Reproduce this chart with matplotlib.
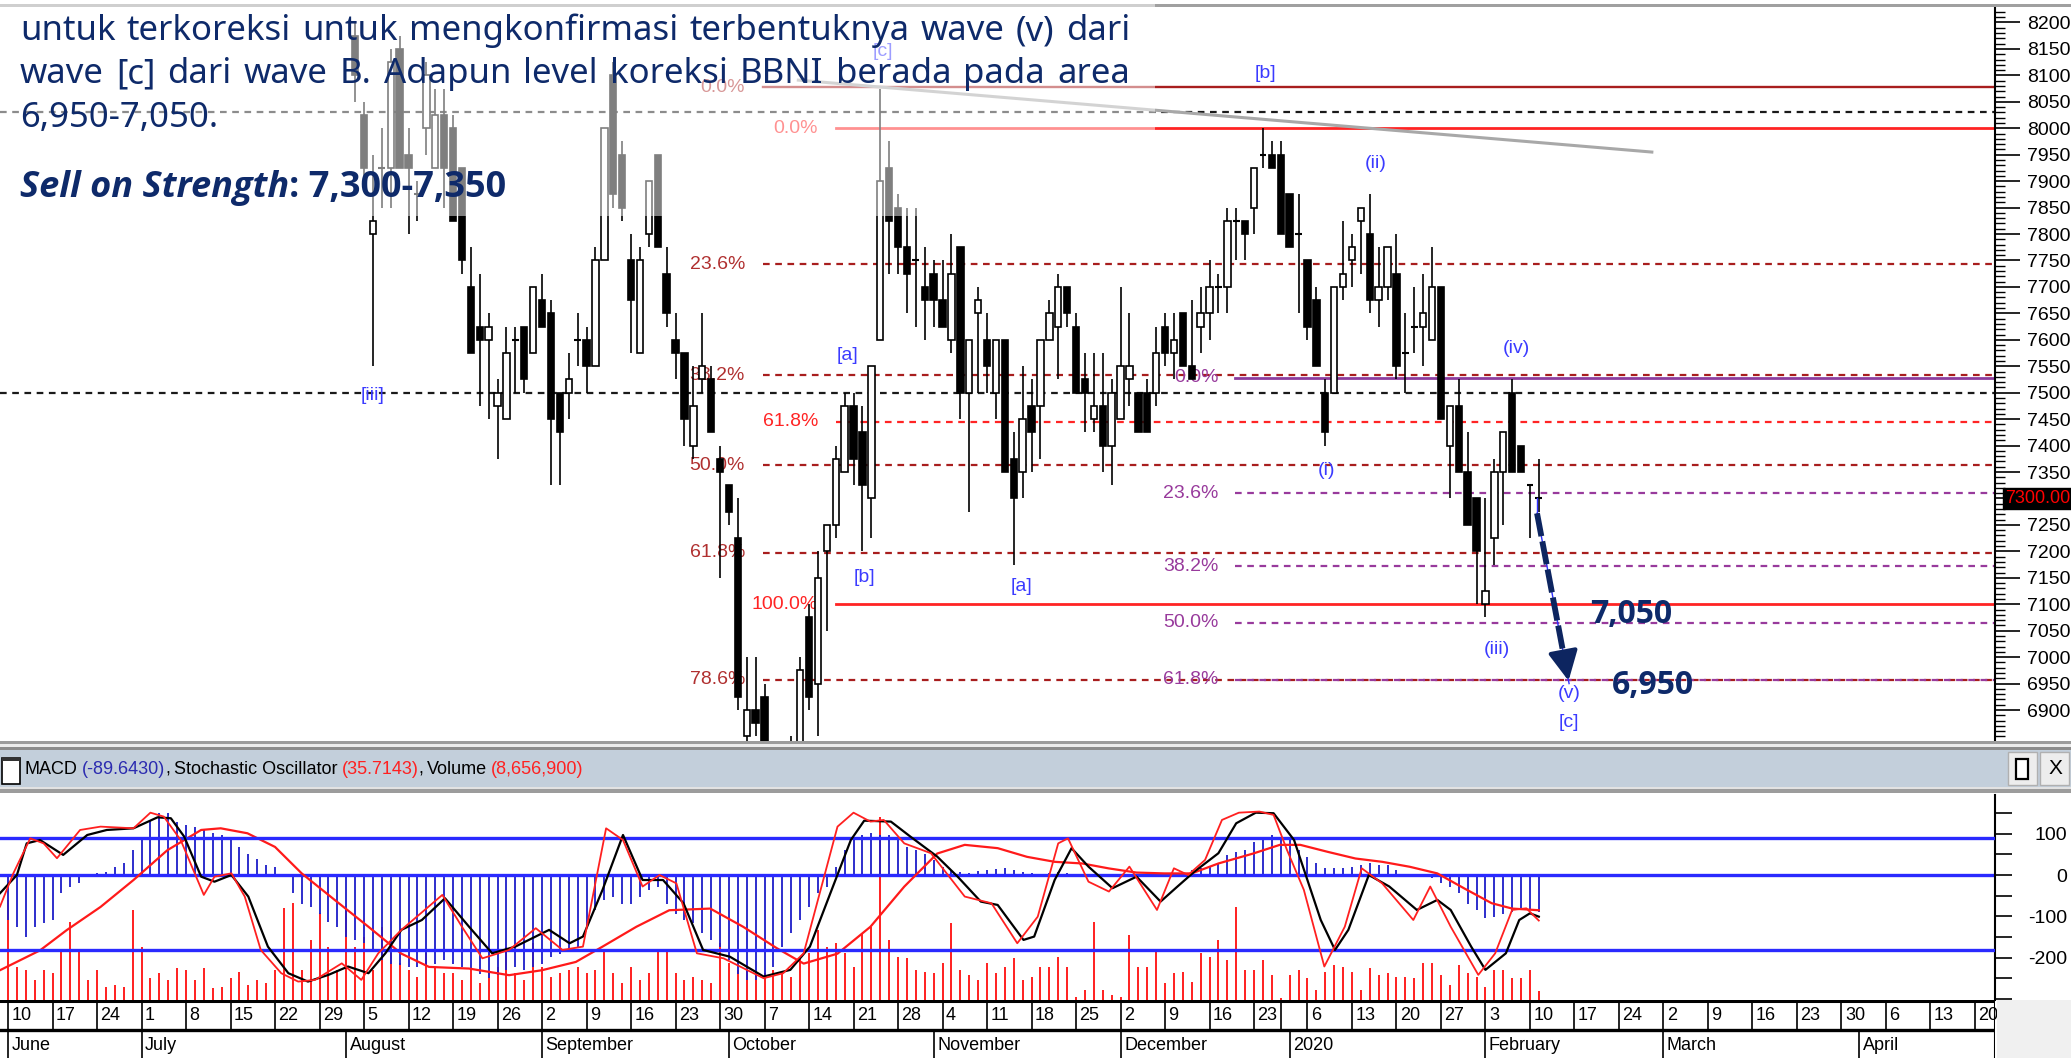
import os
import numpy as np
import matplotlib
matplotlib.use("Agg")
import matplotlib.pyplot as plt
from matplotlib import font_manager as fm
from matplotlib.patches import Rectangle
from matplotlib.ticker import FuncFormatter

plt.rcParams['font.family'] = ['Liberation Sans', 'DejaVu Sans']

# ---- candles (x = trading-day index from 10 Jun 2019) ----
candle_idx = list(range(39, 173))
opens = [8175, 8025, 7800, 7925, 7925, 8150, 7950, 7875, 8000, 7925, 8025, 8000, 7925, 7700, 7625, 7600,
         7475, 7450, 7600, 7625, 7575, 7675, 7650, 7500, 7500, 7600, 7600, 7550, 7750, 8100, 7950, 7750,
         7575, 7800, 7950, 7725, 7600, 7575, 7400, 7525, 7525, 7375, 7325, 7225, 6850, 6900, 6925, 6775,
         6725, 6750, 6800, 7075, 6950, 7200, 7250, 7350, 7475, 7425, 7300, 7600, 7925, 7850, 7775, 7750,
         7700, 7725, 7675, 7600, 7775, 7500, 7650, 7600, 7500, 7600, 7375, 7350, 7475, 7475, 7600, 7625,
         7700, 7625, 7525, 7450, 7475, 7400, 7450, 7525, 7500, 7500, 7500, 7625, 7575, 7650, 7550, 7625,
         7650, 7700, 7700, 7825, 7825, 7850, 7950, 7950, 7950, 7875, 7800, 7750, 7675, 7500, 7500, 7700,
         7750, 7825, 7800, 7675, 7700, 7725, 7575, 7625, 7625, 7600, 7700, 7400, 7475, 7350, 7300, 7100,
         7225, 7350, 7500, 7400, 7325, 7300]
highs = [8200, 8050, 7950, 8000, 8150, 8175, 8000, 7900, 8125, 8075, 8075, 8025, 7925, 7775, 7725, 7650,
         7525, 7625, 7625, 7625, 7700, 7725, 7675, 7500, 7575, 7650, 7625, 7775, 8000, 8125, 7975, 7800,
         7775, 7900, 7950, 7775, 7650, 7575, 7550, 7650, 7550, 7400, 7325, 7300, 7000, 7000, 6950, 6825,
         6800, 6850, 7000, 7100, 7200, 7250, 7400, 7500, 7500, 7475, 7550, 8075, 7975, 7875, 7850, 7850,
         7775, 7750, 7750, 7800, 7775, 7600, 7700, 7650, 7600, 7600, 7425, 7550, 7525, 7600, 7675, 7725,
         7700, 7650, 7575, 7575, 7575, 7525, 7700, 7650, 7500, 7525, 7625, 7650, 7650, 7650, 7675, 7700,
         7750, 7725, 7850, 7850, 7825, 7925, 8000, 7975, 7975, 7875, 7875, 7750, 7700, 7525, 7700, 7825,
         7800, 7850, 7875, 7775, 7775, 7800, 7650, 7700, 7725, 7775, 7700, 7475, 7525, 7425, 7300, 7300,
         7375, 7425, 7525, 7400, 7325, 7375]
lows = [8050, 7900, 7550, 7850, 7850, 7925, 7800, 7825, 7950, 7925, 7850, 7825, 7725, 7575, 7475, 7450,
        7375, 7450, 7500, 7500, 7575, 7625, 7325, 7325, 7450, 7550, 7500, 7550, 7750, 7850, 7825, 7575,
        7575, 7775, 7775, 7625, 7525, 7400, 7375, 7500, 7425, 7150, 7250, 6900, 6800, 6850, 6750, 6700,
        6675, 6700, 6775, 6900, 6850, 7050, 7225, 7350, 7325, 7200, 7225, 7600, 7725, 7725, 7650, 7625,
        7600, 7625, 7625, 7575, 7450, 7275, 7500, 7500, 7450, 7350, 7175, 7300, 7350, 7375, 7600, 7525,
        7625, 7500, 7425, 7425, 7350, 7325, 7450, 7475, 7425, 7425, 7475, 7550, 7525, 7550, 7525, 7575,
        7600, 7650, 7650, 7750, 7750, 7800, 7925, 7925, 7800, 7775, 7650, 7600, 7550, 7400, 7500, 7675,
        7700, 7725, 7650, 7625, 7675, 7525, 7500, 7575, 7550, 7600, 7450, 7300, 7350, 7250, 7100, 7075,
        7175, 7250, 7350, 7350, 7225, 7275]
closes = [8100, 7925, 7825, 7925, 8125, 7925, 7925, 7875, 8100, 8025, 7925, 7825, 7750, 7575, 7600, 7625,
          7500, 7575, 7600, 7525, 7700, 7625, 7450, 7425, 7525, 7600, 7550, 7750, 8000, 7875, 7850, 7675,
          7750, 7900, 7775, 7650, 7575, 7450, 7475, 7550, 7425, 7350, 7275, 6925, 6900, 6875, 6775, 6725,
          6775, 6800, 6975, 6925, 7150, 7250, 7375, 7475, 7375, 7325, 7550, 7900, 7825, 7775, 7725, 7750,
          7675, 7675, 7625, 7725, 7500, 7600, 7675, 7550, 7600, 7350, 7300, 7450, 7425, 7600, 7650, 7700,
          7650, 7500, 7500, 7475, 7400, 7500, 7550, 7550, 7425, 7425, 7575, 7575, 7600, 7550, 7525, 7650,
          7700, 7700, 7825, 7825, 7800, 7925, 7950, 7925, 7800, 7775, 7800, 7625, 7550, 7425, 7700, 7725,
          7775, 7850, 7675, 7700, 7775, 7550, 7575, 7625, 7650, 7700, 7450, 7475, 7350, 7250, 7200, 7125,
          7350, 7425, 7350, 7350, 7325, 7300]

# ---- fibonacci / reference levels ----
fib_dark_levels = [8078, 7743, 7533, 7363, 7197, 6957]
fib_dark_labels = ["0.0%", "23.6%", "38.2%", "50.0%", "61.8%", "78.6%"]
fib_red_levels = [8000, 7445, 7100]
fib_red_labels = ["0.0%", "61.8%", "100.0%"]
fib_purple_levels = [7528, 7310, 7172, 7065, 6957]
fib_purple_labels = ["0.0%", "23.6%", "38.2%", "50.0%", "61.8%"]
black_dashed_levels = [8030, 7500]
trend_x = [88.8, 184.7]
trend_y = [8091, 7955]

# ---- wave labels ----
wave_text = ["[iii]", "[a]", "[b]", "[c]", "[a]", "[b]", "(i)", "(ii)", "(iii)", "(iv)", "(v)", "[c]"]
wave_x = [41, 94.3, 96.2, 98.3, 113.9, 141.3, 148.2, 153.7, 167.3, 169.5, 175.4, 175.4]
wave_y = [7495, 7570, 7150, 8145, 7133, 8103, 7353, 7934, 7014, 7584, 6932, 6876]
arrow_x = [171.8, 175.4]
arrow_y = [7272, 6950]

# ---- lower panel ----
macd_hist = [-109, -125, -149, -125, -117, -109, -44, -28, -20, -4, 4, 8, 20, 28, 60, 93, 133, 151, 151, 129,
             121, 117, 110, 101, 97, 85, 69, 52, 40, 24, 20, -5, -44, -69, -77, -93, -113, -125, -149, -157,
             -165, -181, -206, -214, -218, -222, -222, -218, -214, -206, -214, -222, -230, -238, -250, -242,
             -230, -222, -230, -222, -214, -198, -190, -181, -173, -125, -85, -60, -52, -69, -69, -52, -36,
             -28, -69, -93, -109, -117, -141, -157, -173, -206, -238, -254, -254, -246, -222, -173, -141, -109,
             -77, -44, -28, 20, 60, 85, 97, 101, 97, 97, 85, 69, 60, 52, 36, 20, 12, 8, 4, 10, 12, 14, 16, 12,
             8, 4, 0, 4, 8, 4, 2, 2, 3, 2, 2, 3, 2, 2, 3, 5, 5, 5, 8, 12, 16, 20, 28, 48, 56, 60, 81, 93, 97,
             93, 85, 60, 44, 28, 16, 16, 16, 20, 24, 28, 24, 24, 12, 0, 0, -4, -8, -20, -28, -44, -69, -85,
             -105, -101, -93, -89, -85, -85, -89.6]
signal_x = [-0.9, 3.6, 6.6, 10.4, 14.1, 17.9, 21.7, 23.9, 26.9, 30.0, 33.0, 36.7, 40.5, 44.2, 47.3, 51.8,
            56.3, 60.0, 63.8, 66.8, 70.6, 74.3, 78.9, 82.6, 86.4, 89.4, 93.2, 96.9, 100.7, 104.4, 107.5,
            111.2, 114.5, 117.6, 120.7, 123.7, 126.8, 129.9, 133.0, 136.0, 139.9, 142.9, 145.2, 148.3,
            151.4, 154.4, 157.5, 160.6, 163.6, 166.7, 169.0, 172.0]
signal_y = [-230, -182, -133, -77, -12, 60, 109, 113, 101, 68, 4, -60, -125, -190, -222, -226, -242, -230,
            -210, -173, -125, -85, -81, -125, -177, -214, -190, -125, -28, 52, 73, 65, 44, 32, 28, 16, 6, 4,
            4, 28, 52, 73, 73, 56, 40, 32, 20, 4, -32, -68, -81, -85]
stoch_k_x = [-0.9, 0.6, 2.5, 4.0, 5.5, 8.1, 10.4, 14.1, 16.0, 17.5, 19.4, 22.0, 23.2, 25.1, 26.6, 28.4,
             30.7, 32.6, 34.5, 37.5, 39.7, 41.6, 44.2, 48.8, 51.0, 53.3, 56.3, 59.3, 62.3, 64.6, 67.2, 69.1,
             71.3, 73.2, 75.1, 77.4, 80.4, 84.9, 87.1, 89.4, 93.2, 95.0, 96.9, 98.4, 100.7, 103.7, 107.5,
             110.5, 113.4, 115.7, 118.0, 119.1, 121.4, 123.7, 126.0, 129.1, 131.0, 132.6, 134.5, 136.4,
             138.3, 140.6, 142.2, 143.7, 145.6, 147.9, 150.2, 152.1, 154.4, 157.9, 159.8, 162.1, 165.2,
             167.1, 169.0, 170.6, 172.0]
stoch_k_y = [43.2, 61.1, 79.9, 77.2, 69.2, 84.4, 86.2, 85.3, 93.7, 91.6, 79.0, 49.5, 59.3, 61.1, 48.6, 19.9,
             7.4, 2.9, 3.8, 12.7, 3.8, 18.1, 30.7, 49.5, 32.4, 15.4, 19.9, 31.6, 19.9, 21.7, 85.3, 79.0, 54.0,
             60.2, 55.7, 18.1, 15.4, 4.7, 7.4, 18.1, 86.2, 93.7, 88.9, 89.8, 77.2, 71.9, 48.6, 45.0, 23.5,
             37.8, 77.2, 79.9, 56.6, 51.3, 64.7, 41.4, 63.8, 60.2, 68.3, 89.8, 93.7, 94.3, 92.5, 73.7, 52.2,
             11.0, 32.4, 63.8, 55.7, 36.0, 54.0, 32.4, 6.5, 18.1, 41.4, 42.3, 35.7]
stoch_d_x = [-0.9, 1.0, 2.1, 3.6, 6.2, 8.9, 11.1, 14.1, 16.8, 18.3, 19.8, 21.7, 23.2, 25.1, 27.0, 29.2,
             31.5, 33.7, 36.0, 38.2, 40.5, 42.4, 44.2, 46.5, 49.1, 51.8, 54.4, 57.0, 60.8, 63.1, 64.6, 66.8,
             69.1, 71.3, 73.6, 75.9, 78.1, 81.1, 84.9, 87.9, 90.1, 92.4, 94.7, 96.2, 99.2, 101.4, 104.4,
             106.7, 109.3, 111.2, 114.1, 115.3, 117.6, 119.5, 121.4, 124.1, 126.8, 129.5, 131.4, 133.3,
             136.0, 138.0, 140.2, 142.2, 144.5, 146.0, 147.5, 149.1, 150.6, 152.9, 155.2, 158.3, 160.6,
             162.1, 164.4, 166.0, 168.3, 169.8, 171.0, 172.0]
stoch_d_y = [50.4, 60.2, 77.2, 79.0, 71.0, 81.7, 84.4, 85.3, 91.2, 90.7, 80.8, 59.3, 56.6, 60.2, 48.6, 21.7,
             7.4, 2.9, 6.5, 11.0, 7.4, 18.1, 30.7, 36.0, 47.7, 32.4, 18.1, 21.7, 30.7, 23.5, 27.1, 52.2, 81.7,
             57.5, 57.5, 45.0, 19.9, 16.3, 5.6, 9.2, 21.7, 50.4, 79.0, 89.4, 88.9, 80.8, 70.1, 59.3, 45.9,
             44.1, 25.3, 27.1, 57.5, 74.6, 64.7, 53.1, 59.3, 45.9, 54.0, 62.0, 71.9, 88.0, 93.7, 93.4, 79.0,
             57.5, 36.0, 19.9, 30.7, 60.2, 54.0, 41.4, 46.8, 41.4, 21.7, 9.2, 18.1, 36.0, 39.6, 37.8]
volume_m = [100, 33, 30, 20, 30, 27, 50, 78, 50, 20, 30, 13, 15, 13, 90, 53, 22, 27, 20, 32, 30, 20, 32, 12,
            13, 22, 28, 15, 20, 17, 30, 92, 97, 30, 60, 87, 53, 30, 90, 53, 63, 30, 73, 47, 37, 30, 23, 47,
            33, 27, 27, 20, 30, 17, 27, 33, 53, 27, 20, 57, 33, 23, 27, 30, 33, 27, 30, 50, 27, 17, 33, 20,
            27, 50, 50, 27, 20, 23, 20, 17, 57, 37, 30, 30, 27, 27, 30, 27, 23, 43, 47, 70, 53, 57, 47, 33,
            67, 73, 183, 60, 43, 42, 30, 28, 27, 37, 77, 30, 25, 20, 37, 27, 33, 42, 20, 23, 33, 33, 43, 33,
            3, 10, 78, 10, 5, 3, 65, 33, 33, 50, 17, 27, 28, 18, 47, 43, 60, 40, 93, 30, 30, 40, 25, 2, 25,
            30, 22, 10, 28, 35, 33, 28, 10, 32, 25, 27, 23, 23, 22, 37, 37, 25, 15, 35, 27, 23, 13, 30, 30,
            22, 22, 30, 8.66]

# ---- date axis ----
week_idx = [0, 5, 10, 15, 20, 25, 30, 35, 40, 45, 50, 55, 60, 65, 70, 75, 80, 85, 90, 95, 100, 105, 110,
            115, 120, 125, 130, 135, 140, 143, 146, 151, 156, 161, 166, 171, 176, 181, 186, 191, 196, 201,
            206, 211, 216, 221]
week_labels = ["10", "17", "24", "1", "8", "15", "22", "29", "5", "12", "19", "26", "2", "9", "16", "23",
               "30", "7", "14", "21", "28", "4", "11", "18", "25", "2", "9", "16", "23", "", "6", "13", "20",
               "27", "3", "10", "17", "24", "2", "9", "16", "23", "30", "6", "13", "20"]
month_idx = [0, 15, 38, 60, 81, 104, 125, 144, 166, 186, 208]
month_labels = ["June", "July", "August", "September", "October", "November", "December", "2020",
                "February", "March", "April"]

line1 = "untuk terkoreksi untuk mengkonfirmasi terbentuknya wave (v) dari"
line2 = "wave [c] dari wave B. Adapun level koreksi BBNI berada pada area"
line3 = "6,950-7,050."


# ---- font helpers ----
def font_ok(fam, weight="normal", style="normal", need=()):
    try:
        p = fm.findfont(fm.FontProperties(family=fam, weight=weight, style=style), fallback_to_default=False)
    except Exception:
        return False
    name = os.path.basename(p).lower()
    return all(any(k in name for k in n) for n in need)


BODY = next((f for f in ["Noto Sans", "Open Sans", "Lato"] if font_ok(f)), "DejaVu Sans")
BOLD = next((f for f in ["Noto Sans", "Open Sans", "Lato", "Roboto", "Liberation Sans"]
             if font_ok(f, "bold", need=(("bold",),))), "DejaVu Sans")
BOLDIT = next((f for f in ["Noto Sans", "Open Sans", "Lato", "Roboto", "Liberation Sans"]
               if font_ok(f, "bold", "italic", need=(("bold",), ("italic", "oblique")))), "DejaVu Sans")
HAS_NARROW = font_ok("Liberation Sans Narrow", need=(("narrow",),))
HEAD = dict(family="Liberation Sans Narrow", fontsize=15) if HAS_NARROW else dict(family="Liberation Sans", fontsize=13)
DATES = dict(family="Liberation Sans Narrow", fontsize=15) if HAS_NARROW else dict(family="Liberation Sans", fontsize=13)

W, H = 2071, 1058
fig = plt.figure(figsize=(W / 100, H / 100), dpi=100)
fig.patch.set_facecolor("white")


def fx(px):
    return px / W


def fy(py):
    return 1 - py / H


X0 = -0.9
X1 = X0 + 1995 / 8.9
NAVY = "#0e2a6a"
WAVE = "#3b3bff"
DARK = "#a81e1e"
RED = "#ff2424"
PURP = "#983a9c"

# ================= main price panel =================
ax = fig.add_axes([0, fy(741), fx(1995), (741 - 8) / H])
ax.set_xlim(X0, X1)
ax.set_ylim(6841.4, 8227.4)
for s in ["left", "top", "bottom"]:
    ax.spines[s].set_visible(False)
ax.spines["right"].set_linewidth(1.5)
ax.set_xticks([])
ax.yaxis.tick_right()
ax.set_yticks(np.arange(6900, 8201, 50))
ax.set_yticks(np.arange(6850, 8221, 10), minor=True)
ax.yaxis.set_major_formatter(FuncFormatter(lambda v, p: "" if abs(v - closes[-1]) < 1 else f"{v:.0f}"))
ax.tick_params(axis="y", which="major", length=18, width=1.2, pad=5, labelsize=14)
ax.tick_params(axis="y", which="minor", length=7, width=1)

dash = (0, (3, 2.5))
for lv in black_dashed_levels:
    ax.plot([X0, X1], [lv, lv], color="#1a1a1a", lw=1.6, ls=dash, zorder=1)
for i, (lv, lab) in enumerate(zip(fib_dark_levels, fib_dark_labels)):
    ax.plot([84.8, X1], [lv, lv], color=DARK, lw=1.7 if i == 0 else 1.6, ls="-" if i == 0 else dash, zorder=1)
    ax.text(82.8, lv, lab, color="#b03030", fontsize=14, ha="right", va="center", zorder=2)
for i, (lv, lab) in enumerate(zip(fib_red_levels, fib_red_labels)):
    ax.plot([93.0, X1], [lv, lv], color=RED, lw=2.0 if lab != "61.8%" else 1.6,
            ls=dash if lab == "61.8%" else "-", zorder=1)
    ax.text(91.0, lv, lab, color=RED, fontsize=14, ha="right", va="center", zorder=2)
for i, (lv, lab) in enumerate(zip(fib_purple_levels, fib_purple_labels)):
    ax.plot([137.9, X1], [lv, lv], color=PURP if i else "#8b3c9e", lw=2.0 if i == 0 else 1.6,
            ls="-" if i == 0 else dash, zorder=1)
    ax.text(136.0, lv, lab, color=PURP, fontsize=14, ha="right", va="center", zorder=2)
ax.plot(trend_x, trend_y, color="#a8a8a8", lw=2.2, zorder=1)

# candles
cx = np.array(candle_idx)
o, hi, lo, cl = map(np.array, (opens, highs, lows, closes))
up, dn, dj = cl > o, cl < o, cl == o
ax.vlines(cx, lo, hi, color="black", lw=1.2, zorder=3)
ax.bar(cx[up], (cl - o)[up], bottom=o[up], width=0.72, color="white", edgecolor="black", lw=1.2, zorder=4)
ax.bar(cx[dn], (o - cl)[dn], bottom=cl[dn], width=0.72, color="black", edgecolor="black", lw=1.2, zorder=4)
ax.hlines(cl[dj], cx[dj] - 0.38, cx[dj] + 0.38, color="black", lw=1.5, zorder=4)

for t, x, y in zip(wave_text, wave_x, wave_y):
    ax.text(x, y, t, color=WAVE, fontsize=14, ha="center", va="center", zorder=5)

# projected path
ax.plot([arrow_x[0], arrow_x[0]], [7300, arrow_y[0]], color="#3030ff", lw=1, zorder=5)
ax.plot(arrow_x, arrow_y, color="#3030ff", lw=1, zorder=5)
ax.plot([arrow_x[0], arrow_x[0] + 0.93 * (arrow_x[1] - arrow_x[0])],
        [arrow_y[0], arrow_y[0] + 0.93 * (arrow_y[1] - arrow_y[0])],
        color="#0d2560", lw=4.2, ls=(0, (4, 0.9)), zorder=6)
ax.annotate("", xy=(arrow_x[1], arrow_y[1]),
            xytext=(arrow_x[1] - 0.12 * (arrow_x[1] - arrow_x[0]), arrow_y[1] - 0.12 * (arrow_y[1] - arrow_y[0])),
            arrowprops=dict(arrowstyle="-|>,head_width=0.45,head_length=0.9", color="#0d2560",
                            lw=3, mutation_scale=20), zorder=6)
ax.text(177.8, 7080, "7,050", color=NAVY, fontsize=23, fontweight="bold", family=BOLD,
        ha="left", va="center", zorder=6)
ax.text(180.2, 6947, "6,950", color=NAVY, fontsize=23, fontweight="bold", family=BOLD,
        ha="left", va="center", zorder=6)

ax.annotate("7300.00", xy=(1, closes[-1]), xycoords=("axes fraction", "data"), xytext=(10, 0),
            textcoords="offset pixels", ha="left", va="center", color="#ff0000", fontsize=13,
            bbox=dict(boxstyle="square,pad=0.12", fc="black", ec="black"), annotation_clip=False, zorder=7)

# ================= lower panel =================
rect = [0, fy(1000), fx(1995), (1000 - 795) / H]
ax_v = fig.add_axes(rect, zorder=1)
ax_m = fig.add_axes(rect, zorder=2)
ax_s = fig.add_axes(rect, zorder=3)
for a in (ax_v, ax_m, ax_s):
    a.set_xlim(X0, X1)
    a.set_xticks([])
    for s in ["left", "top", "bottom", "right"]:
        a.spines[s].set_visible(False)
for a in (ax_m, ax_s):
    a.patch.set_visible(False)
ax_v.set_yticks([])
ax_s.set_yticks([])
ax_v.set_ylim(0, 205)
ax_m.set_ylim(-302, 193.5)
ax_s.set_ylim(-7.0, 103.2)

ax_v.vlines(np.arange(len(volume_m)), 0, volume_m, color="#ff1f1f", lw=1.4)
ax_m.vlines(np.arange(len(macd_hist)), 0, macd_hist, color="#1c1cc8", lw=1.3)
ax_m.axhline(0, color="#2a2aff", lw=2.4)
ax_m.plot(signal_x, signal_y, color="#ff1a1a", lw=1.6)
ax_s.axhline(80, color="#2a2aff", lw=2.4)
ax_s.axhline(20, color="#2a2aff", lw=2.4)
ax_s.plot(stoch_d_x, stoch_d_y, color="black", lw=1.6)
ax_s.plot(stoch_k_x, stoch_k_y, color="#ff2020", lw=1.3)

ax_m.spines["right"].set_visible(True)
ax_m.spines["right"].set_linewidth(1.5)
ax_m.yaxis.tick_right()
mt = np.arange(-300, 151, 50)
ax_m.set_yticks(mt)
ax_m.set_yticklabels([str(v) if v in (100, 0, -100, -200) else "" for v in mt])
ax_m.tick_params(axis="y", length=12, width=1.2, pad=40, labelsize=14)
for lab in ax_m.get_yticklabels():
    lab.set_horizontalalignment("right")

# ================= date axis =================
ax_d = fig.add_axes([0, 0, fx(1995), 58 / H])
ax_d.set_xlim(X0, X1)
ax_d.set_ylim(0, 58)
ax_d.axis("off")
ax_d.plot([X0, X1], [57, 57], color="black", lw=2.2)
ax_d.plot([X0, X1], [28, 28], color="black", lw=2.4)
ax_d.plot([X1, X1], [0, 58], color="black", lw=1.5)
ax_d.vlines(week_idx, 28, 58, color="black", lw=1.2)
for x, t in zip(week_idx, week_labels):
    ax_d.text(x + 0.4, 42, t, ha="left", va="center", **DATES)
ax_d.vlines(month_idx, 0, 28, color="black", lw=1.2)
for x, t in zip(month_idx, month_labels):
    ax_d.text(x + 0.4, 12, t, ha="left", va="center", **DATES)


# ================= window chrome =================
def band(y0, y1, color, x0=0, x1=W, z=0.5):
    fig.add_artist(Rectangle((fx(x0), fy(y1)), fx(x1) - fx(x0), (y1 - y0) / H, transform=fig.transFigure,
                             facecolor=color, edgecolor="none", zorder=z))


band(4, 6.5, "#a0a0a0")
band(741, 744, "#9c9c9c")
band(744, 747, "#ececec")
band(747, 750, "#8c8c8c")
band(750, 787, "#c3cfdb")
band(787, 789, "#e2e2e2")
band(789, 793, "#9c9c9c")
band(1000, H, "#f0f0f0", x0=1997)
fig.add_artist(Rectangle((fx(2), fy(784)), fx(18), 26 / H, transform=fig.transFigure,
                         facecolor="white", edgecolor="black", lw=1.2, zorder=2))
band(757, 761, "#333333", x0=2, x1=20, z=3)
for bx0 in (2008, 2040):
    fig.add_artist(Rectangle((fx(bx0), fy(785)), fx(29), 33 / H, transform=fig.transFigure,
                             facecolor="#ededed", edgecolor="#b0b0b0", lw=1, zorder=2))
fig.add_artist(Rectangle((fx(2016), fy(779)), fx(12), 20 / H, transform=fig.transFigure,
                         facecolor="white", edgecolor="black", lw=1.6, zorder=3))
fig.text(fx(2055), fy(769), "X", fontsize=15, ha="center", va="center", zorder=3)

renderer = fig.canvas.get_renderer()
header = [("MACD", "black", 4), ("(-89.6430)", "#2b2bb0", 0), (",", "black", 4),
          ("Stochastic Oscillator", "black", 4), ("(35.7143)", "#ff2020", 0), (",", "black", 4),
          ("Volume", "black", 4), ("(8,656,900)", "#ff2020", 0)]
xx = 25
for txt, col, gap in header:
    a = fig.text(fx(xx), fy(769), txt, color=col, va="center", ha="left", zorder=3, **HEAD)
    xx += a.get_window_extent(renderer).width + gap

# ================= annotation text box =================
fig.add_artist(Rectangle((0, fy(216)), fx(1155), 216 / H, transform=fig.transFigure,
                         facecolor="white", alpha=0.5, edgecolor="none", zorder=5))


def justify(text, x0, x1, yb, **kw):
    words = text.split()
    arts = [fig.text(0, fy(yb), w, va="baseline", ha="left", zorder=6, **kw) for w in words]
    ws = [a.get_window_extent(renderer).width for a in arts]
    gap = (x1 - x0 - sum(ws)) / (len(words) - 1)
    x = x0
    for a, w in zip(arts, ws):
        a.set_x(fx(x))
        x += w + gap


body = dict(color=NAVY, fontsize=25, family=BODY)
justify(line1, 20, 1130, 40, **body)
justify(line2, 20, 1130, 83, **body)
fig.text(fx(20), fy(127), line3, va="baseline", ha="left", zorder=6, **body)
a = fig.text(fx(20), fy(197), "Sell on Strength", va="baseline", ha="left", zorder=6, color=NAVY,
             fontsize=26, family=BOLDIT, fontweight="bold", fontstyle="italic")
xx = 20 + a.get_window_extent(renderer).width
fig.text(fx(xx), fy(197), ": 7,300-7,350", va="baseline", ha="left", zorder=6, color=NAVY,
         fontsize=26, family=BOLD, fontweight="bold")

fig.savefig("out.png", dpi=100, facecolor="white")
